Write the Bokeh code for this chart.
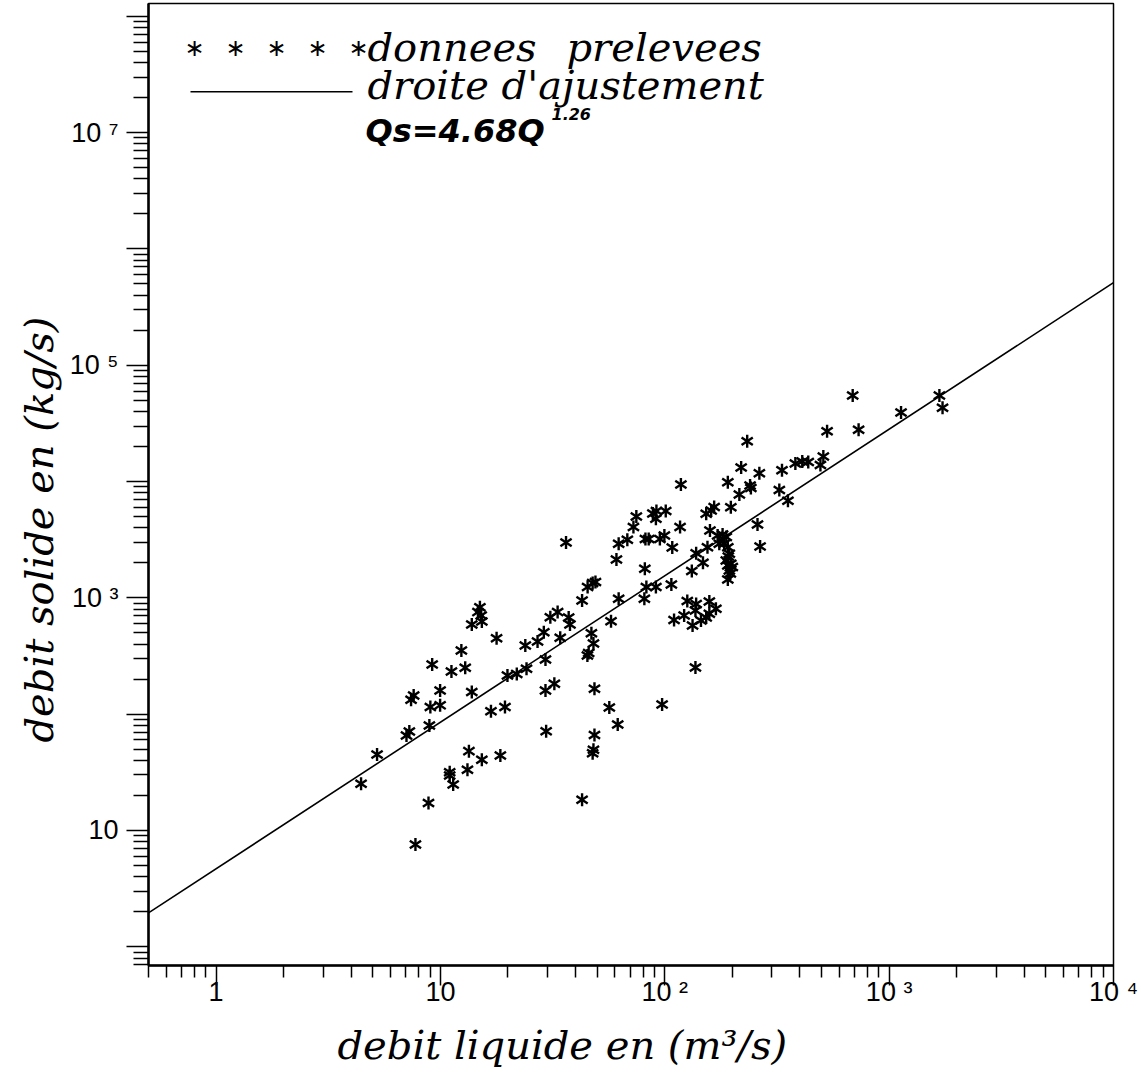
import numpy as np
from bokeh.plotting import figure
from bokeh.models import Range1d, FixedTicker, CustomJSTickFormatter, Label, BoxAnnotation, Title
from bokeh.embed import file_html
from bokeh.resources import INLINE

# ---------------- data ----------------
Q = [4.43, 5.22, 7.74, 8.85, 7.27, 7.06, 8.93, 7.60, 7.40, 9.19,
     9.97, 9.97, 9.02, 11.2, 12.9, 12.4, 13.8, 15.0, 14.7, 15.2,
     13.8, 15.3, 17.8, 16.8, 19.4, 13.4, 15.3, 18.5, 13.2, 11.0,
     11.0, 11.4, 19.9, 21.9, 24.2, 23.9, 27.1, 28.9, 30.9, 33.3,
     34.2, 29.4, 29.4, 32.2, 29.6, 37.3, 37.8, 36.3, 42.8, 47.7,
     49.1, 45.3, 62.3, 57.6, 47.1, 48.1, 45.8, 45.2, 48.6, 56.6,
     61.7, 48.6, 48.1, 47.7, 42.8, 60.9, 62.3, 68.1, 72.5, 74.7,
     82.0, 84.8, 95.1, 99.6, 88.5, 91.8, 91.3, 101, 108, 81.5,
     82.8, 91.3, 81.1, 107, 118, 117, 138, 132, 148, 97.3,
     137, 153, 161, 166, 191, 197, 215, 219, 233, 240,
     242, 264, 259, 266, 155, 159, 172, 181, 188, 184,
     175, 191, 194, 188, 191, 194, 197, 200, 192, 196,
     191, 126, 138, 137, 158, 169, 110, 122, 133, 145,
     153, 158, 333, 324, 354, 382, 410, 436, 494, 509,
     529, 731, 688, 1130, 1675, 1730]
QS = [25.2, 45.0, 7.58, 17.2, 71.0, 65.6, 80.0, 145, 133, 267,
      160, 119, 115, 233, 251, 353, 155, 832, 754, 706,
      591, 627, 450, 106, 115, 48.1, 40.5, 44.2, 33.3, 31.7,
      29.7, 24.9, 215, 222, 246, 390, 422, 507, 682, 754,
      454, 295, 160, 183, 71.4, 678, 591, 2990, 950, 1340,
      1370, 1240, 982, 630, 497, 405, 335, 320, 165, 114,
      81.5, 66.2, 49.4, 46.2, 18.4, 2140, 2920, 3160, 4070, 5010,
      3210, 3210, 3210, 3440, 5320, 5590, 4790, 5590, 2710, 1780,
      1240, 1240, 982, 1300, 9440, 4070, 2420, 1700, 2000, 121,
      252, 5290, 5650, 6050, 9880, 6020, 7750, 13200, 22200, 9250,
      8810, 11800, 4280, 2770, 2730, 3800, 3440, 3510, 3330, 2920,
      2920, 2730, 2390, 2100, 1900, 1720, 1960, 1840, 2270, 1620,
      1440, 940, 887, 779, 931, 806, 646, 706, 579, 639,
      678, 730, 12500, 8470, 6840, 14300, 14900, 14700, 13900, 16400,
      27100, 27900, 55000, 39300, 55000, 43100]

FIT_A = 4.68
FIT_B = 1.26
FIT_Q = [0.5, 10000.0]

X_TICKS = [1, 10, 100, 1000, 10000]
X_TICK_LABELS = ["1", "10", "10 ²", "10 ³", "10 ⁴"]
Y_TICKS = [1, 10, 100, 1000, 10000, 100000, 1000000, 10000000, 100000000]
Y_TICK_LABELS = ["", "10", "", "10 ³", "", "10 ⁵", "", "10 ⁷", ""]

X_TITLE = "debit liquide en (m³/s)"
Y_TITLE = "debit solide en (kg/s)"
LEG_POINTS_A = "donnees"
LEG_POINTS_B = "prelevees"
LEG_LINE = "droite d'ajustement"
EQ_MAIN = "Qs=4.68Q"
EQ_EXP = "1.26"

# ---------------- layout ----------------
W, H = 1141, 1078
BL, BR, BT, BB = 148, 28, 3, 113
FRAME_B = H - BB
DY = 11  # empirical baseline correction for labels

def fx(cx):
    return cx - BL

def fy(cy):
    return FRAME_B - cy + DY

p = figure(width=W, height=H, x_axis_type="log", y_axis_type="log",
           x_range=Range1d(0.5, 10000), y_range=Range1d(0.69, 1.29e8),
           output_backend="svg", toolbar_location=None,
           min_border_left=BL, min_border_right=BR, min_border_top=BT, min_border_bottom=BB)

p.grid.visible = False
p.outline_line_color = "black"
p.outline_line_width = 1.5
p.background_fill_color = "white"
p.border_fill_color = "white"

def make_fmt(tick_vals, tick_labels):
    return CustomJSTickFormatter(args=dict(tv=tick_vals, tl=tick_labels), code="""
        for (let i = 0; i < tv.length; i++) {
            if (Math.abs(Math.log10(tick) - Math.log10(tv[i])) < 1e-6) { return tl[i]; }
        }
        return "";
    """)

minor = [m * 10.0 ** k for k in range(-1, 8) for m in range(2, 10)]
p.xaxis.ticker = FixedTicker(ticks=X_TICKS, minor_ticks=minor)
p.yaxis.ticker = FixedTicker(ticks=Y_TICKS, minor_ticks=minor)
p.xaxis.formatter = make_fmt(X_TICKS, X_TICK_LABELS)
p.yaxis.formatter = make_fmt(Y_TICKS, Y_TICK_LABELS)

for ax in (p.xaxis, p.yaxis):
    ax.axis_line_color = "black"
    ax.axis_line_width = 2.5
    ax.major_tick_line_color = "black"
    ax.minor_tick_line_color = "black"
    ax.major_tick_line_width = 1.5
    ax.minor_tick_line_width = 1.5
    ax.major_tick_in = 0
    ax.minor_tick_in = 0
    ax.major_label_text_font = "Liberation Sans"
    ax.major_label_text_font_size = "27px"
    ax.major_label_text_color = "black"

p.xaxis.major_tick_out = 20
p.xaxis.minor_tick_out = 12
p.xaxis.major_label_standoff = -9
p.yaxis.major_tick_out = 22
p.yaxis.minor_tick_out = 15
p.yaxis.major_label_standoff = 8

# axis titles as side-panel titles (off-centre like the reference)
title_font = dict(text_font="DejaVu Serif", text_font_style="italic",
                  text_font_size="40px", text_color="black")
p.add_layout(Title(text=X_TITLE, align="left", offset=189, standoff=20, **title_font), "below")
p.add_layout(Title(text=Y_TITLE, align="left", offset=223, standoff=10, **title_font), "left")

# ---------------- marks ----------------
fit_qs = [FIT_A * q ** FIT_B for q in FIT_Q]
p.line(FIT_Q, fit_qs, line_color="black", line_width=1.6)

for ang in (0.0, np.pi):
    p.scatter(Q, QS, marker="y", size=13, angle=ang,
              line_color="black", line_width=2.4, fill_color=None)

# ---------------- legend & equation ----------------
serif = dict(text_font="DejaVu Serif", text_font_style="italic", text_color="black",
             text_font_size="40px", text_align="left", text_baseline="alphabetic",
             x_units="screen", y_units="screen")

for i in range(5):
    p.add_layout(Label(x=fx(194 + 41 * i), y=fy(47) - DY, x_units="screen", y_units="screen",
                       text="∗", text_align="center", text_baseline="middle",
                       text_font="DejaVu Sans", text_font_size="24px", text_color="black"))

p.add_layout(Label(x=fx(367), y=fy(57), text=LEG_POINTS_A, **serif))
p.add_layout(Label(x=fx(566), y=fy(57), text=LEG_POINTS_B, **serif))
p.add_layout(Label(x=fx(367), y=fy(95), text=LEG_LINE, **serif))
p.add_layout(BoxAnnotation(left=fx(190), right=fx(352), bottom=fy(92) - DY, top=fy(90.5) - DY,
                           left_units="screen", right_units="screen",
                           bottom_units="screen", top_units="screen",
                           fill_color="black", fill_alpha=1, line_color=None))

p.add_layout(Label(x=fx(365), y=fy(141), x_units="screen", y_units="screen",
                   text=EQ_MAIN, text_align="left", text_baseline="alphabetic",
                   text_font="DejaVu Sans", text_font_style="bold italic",
                   text_font_size="32px", text_color="black"))
p.add_layout(Label(x=fx(551), y=fy(124), x_units="screen", y_units="screen",
                   text=EQ_EXP, text_align="left", text_baseline="alphabetic",
                   text_font="DejaVu Sans", text_font_style="bold italic",
                   text_font_size="16px", text_color="black"))

open("out.html", "w").write(file_html(p, INLINE))
